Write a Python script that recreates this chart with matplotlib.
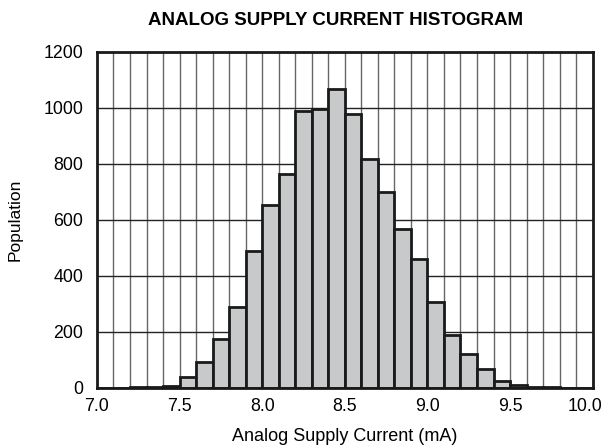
import numpy as np
import matplotlib
matplotlib.use("Agg")
import matplotlib.pyplot as plt
from matplotlib.transforms import ScaledTranslation

plt.rcParams['font.family'] = ['Liberation Sans', 'DejaVu Sans']

# histogram bins (left edges, mA) and counts
bin_left = [7.0, 7.1, 7.2, 7.3, 7.4, 7.5, 7.6, 7.7, 7.8, 7.9,
            8.0, 8.1, 8.2, 8.3, 8.4, 8.5, 8.6, 8.7, 8.8, 8.9,
            9.0, 9.1, 9.2, 9.3, 9.4, 9.5, 9.6, 9.7, 9.8, 9.9]
counts = [0, 0, 2, 5, 8, 38, 92, 175, 290, 490,
          652, 763, 990, 996, 1067, 977, 818, 700, 568, 461,
          306, 188, 120, 68, 24, 10, 4, 2, 0, 0]
x_ticks = [7.0, 7.5, 8.0, 8.5, 9.0, 9.5, 10.0]
y_ticks = [0, 200, 400, 600, 800, 1000, 1200]

fig = plt.figure(figsize=(6.06, 4.47), dpi=100)
ax = fig.add_axes([0.160, 0.132, 0.818, 0.752])

# grid: vertical every 0.1, horizontal every 200
for xv in np.arange(7.1, 10.0, 0.1):
    ax.axvline(xv, color='#666666', lw=1.0, zorder=0)
for yv in y_ticks[1:-1]:
    ax.axhline(yv, color='#222222', lw=1.0, zorder=0)

ax.bar(bin_left, counts, width=0.1, align='edge', color='#c8c9cb',
       edgecolor='#1a1a1a', linewidth=2.0, zorder=2)

ax.set_xlim(7.0, 10.0)
ax.set_ylim(0, 1200)
ax.set_xticks(x_ticks)
ax.set_xticklabels([f"{v:.1f}" for v in x_ticks])
ax.set_yticks(y_ticks)
ax.tick_params(length=0, labelsize=12.8)
ax.tick_params(axis='x', pad=7)
ax.tick_params(axis='y', pad=10)
for s in ax.spines.values():
    s.set_linewidth(2.0)
    s.set_color('#1a1a1a')

# last x label sits a bit left of its tick so it stays inside the figure
last = ax.get_xticklabels()[-1]
last.set_transform(last.get_transform() + ScaledTranslation(-0.08, 0, fig.dpi_scale_trans))

ax.set_xlabel('Analog Supply Current (mA)', fontsize=13)
ax.set_ylabel('Population', fontsize=12.5)
ax.xaxis.set_label_coords(0.5, -0.143)
ax.yaxis.set_label_coords(-0.165, 0.5)
ax.xaxis.label.set_va('center')
ax.yaxis.label.set_va('center')
fig.text(0.553, 0.955, 'ANALOG SUPPLY CURRENT HISTOGRAM', fontsize=13.5,
         fontweight='bold', ha='center', va='center')

fig.savefig('out.png', dpi=100)
